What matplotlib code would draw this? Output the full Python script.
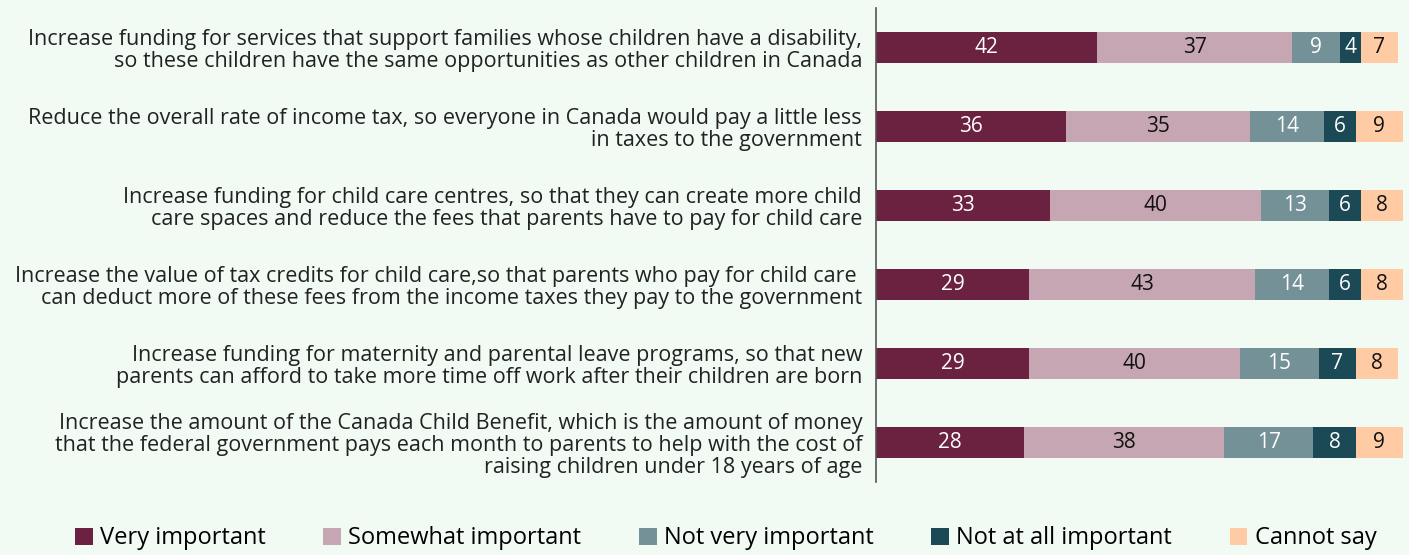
import numpy as np
import matplotlib.pyplot as plt
from matplotlib.patches import Patch

questions = [
    "Increase funding for services that support families whose children have a disability,\nso these children have the same opportunities as other children in Canada",
    "Reduce the overall rate of income tax, so everyone in Canada would pay a little less\nin taxes to the government",
    "Increase funding for child care centres, so that they can create more child\ncare spaces and reduce the fees that parents have to pay for child care",
    "Increase the value of tax credits for child care,so that parents who pay for child care \ncan deduct more of these fees from the income taxes they pay to the government",
    "Increase funding for maternity and parental leave programs, so that new\nparents can afford to take more time off work after their children are born",
    "Increase the amount of the Canada Child Benefit, which is the amount of money\nthat the federal government pays each month to parents to help with the cost of\nraising children under 18 years of age",
]
categories = ["Very important", "Somewhat important", "Not very important",
              "Not at all important", "Cannot say"]
very_important = [42, 36, 33, 29, 29, 28]
somewhat_important = [37, 35, 40, 43, 40, 38]
not_very_important = [9, 14, 13, 14, 15, 17]
not_at_all_important = [4, 6, 6, 6, 7, 8]
cannot_say = [7, 9, 8, 8, 8, 9]

series = [very_important, somewhat_important, not_very_important,
          not_at_all_important, cannot_say]
colors = ["#6A2240", "#C5A6B2", "#739196", "#1B4A56", "#FFCBA4"]
text_colors = ["white", "#111111", "white", "white", "#111111"]
bg = "#F1FAF3"

plt.rcParams['font.family'] = ['Open Sans', 'DejaVu Sans']

fig = plt.figure(figsize=(14.09, 5.55), dpi=100, facecolor=bg)
ax = fig.add_axes([876 / 1409, 73 / 555, 527 / 1409, 474 / 555])
ax.set_facecolor(bg)

# stacked horizontal bars, one segment per answer
y = np.arange(len(questions))
left = np.zeros(len(questions))
for vals, col, tcol in zip(series, colors, text_colors):
    vals = np.array(vals, dtype=float)
    ax.barh(y, vals, left=left, height=0.4, color=col, edgecolor="none")
    for yi, l, v in zip(y, left, vals):
        ax.text(l + v / 2, yi, f"{int(v)}", ha="center", va="center",
                color=tcol, fontsize=15)
    left += vals

ax.set_xlim(0, 100)
ax.set_ylim(len(questions) - 0.5, -0.5)
ax.set_yticks(y)
ax.set_yticklabels(questions, fontsize=15.5, color="#222222", ha="right",
                   linespacing=1.08)
ax.tick_params(axis="y", length=0, pad=10)
ax.set_xticks([])
for s in ["top", "right", "bottom"]:
    ax.spines[s].set_visible(False)
ax.spines["left"].set_color("#555555")
ax.spines["left"].set_linewidth(1.2)

handles = [Patch(facecolor=c, edgecolor="none") for c in colors]
fig.legend(handles, categories, loc="lower center", bbox_to_anchor=(0.515, -0.03),
           ncol=5, frameon=False, handlelength=0.75, handleheight=0.75,
           handletextpad=0.3, columnspacing=2.45, fontsize=17)

fig.savefig("out.png", dpi=100, facecolor=bg)
